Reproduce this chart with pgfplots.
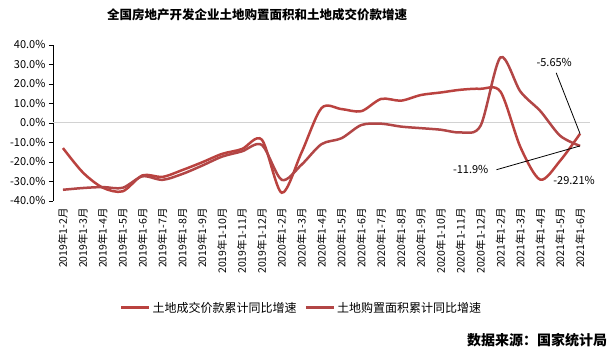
\documentclass[border=0pt]{standalone}
\usepackage{fontspec}
\setmainfont{Noto Sans CJK SC}
\usepackage{pgfplots}
\pgfplotsset{compat=1.18}
\definecolor{lineA}{RGB}{186,66,63}
\definecolor{lineB}{RGB}{178,70,70}
\begin{document}
\begin{tikzpicture}
\useasboundingbox (0bp,0bp) rectangle (616bp,353bp);
\node[font=\bfseries\fontsize{12.5bp}{14bp}\selectfont] at (257bp,338bp) {全国房地产开发企业土地购置面积和土地成交价款增速};
\node[font=\bfseries\fontsize{14bp}{16bp}\selectfont] at (537bp,13bp) {数据来源：国家统计局};
\coordinate (ORG) at (53bp,152.3bp);
\begin{axis}[
  at={(ORG)}, anchor=south west,
  scale only axis, width=537bp, height=156bp,
  clip=false,
  xmin=-0.5, xmax=26.5, ymin=-40, ymax=40,
  axis x line*=bottom, axis y line*=left,
  x axis line style={draw=none},
  y axis line style={black,-},
  ytick={-40,-30,...,40},
  yticklabel={\pgfmathprintnumber[fixed,fixed zerofill,precision=1]{\tick}\%},
  /pgf/number format/assume math mode=true,
  yticklabel style={font=\fontsize{11bp}{13bp}\selectfont},
  ytick style={black}, tick align=outside, major tick length=4bp,
  xtick={0,...,26},
  xtick style={draw=none},
  xticklabels={2019年1-2月,2019年1-3月,2019年1-4月,2019年1-5月,2019年1-6月,2019年1-7月,2019年1-8月,2019年1-9月,2019年1-10月,2019年1-11月,2019年1-12月,2020年1-2月,2020年1-3月,2020年1-4月,2020年1-5月,2020年1-6月,2020年1-7月,2020年1-8月,2020年1-9月,2020年1-10月,2020年1-11月,2020年1-12月,2021年1-2月,2021年1-3月,2021年1-4月,2021年1-5月,2021年1-6月},
  xticklabel style={rotate=90, anchor=east, font=\fontsize{10.5bp}{12bp}\selectfont},
  extra y ticks={0}, extra y tick labels={},
  extra y tick style={grid=major, major grid style={gray!35, line width=0.8bp}, tick style={draw=none}},
  legend columns=2,
  legend style={at={(0.463,-0.686)}, anchor=center, draw=none, fill=none,
    font=\fontsize{12bp}{14bp}\selectfont,
    /tikz/every even column/.append style={column sep=6bp}},
  legend image code/.code={\draw[#1, line width=2.5bp] (0bp,0bp) -- (28bp,0bp);},
]
\addplot[lineA, line width=2.5bp, smooth, tension=0.5, no markers] coordinates {
(0,-13.0) (1,-25.5) (2,-33.3) (3,-35.2) (4,-27.0) (5,-27.8) (6,-24.3) (7,-20.3) (8,-16.0) (9,-13.5) (10,-8.7)
(11,-35.9) (12,-15.2) (13,7.5) (14,7.0) (15,5.9) (16,12.2) (17,11.3) (18,14.2) (19,15.5) (20,16.9) (21,17.4)
(22,15.9) (23,-12.5) (24,-29.21) (25,-19.5) (26,-5.65)};
\addlegendentry{土地成交价款累计同比增速}
\addplot[lineB, line width=2.5bp, smooth, tension=0.5, no markers] coordinates {
(0,-34.4) (1,-33.5) (2,-33.0) (3,-33.4) (4,-27.5) (5,-29.3) (6,-26.3) (7,-22.0) (8,-17.4) (9,-14.7) (10,-11.4)
(11,-29.3) (12,-21.5) (13,-11.0) (14,-8.0) (15,-1.2) (16,-0.5) (17,-2.0) (18,-2.8) (19,-3.6) (20,-5.0) (21,-1.5)
(22,33.5) (23,16.0) (24,6.0) (25,-6.7) (26,-11.9)};
\addlegendentry{土地购置面积累计同比增速}
\draw[black, line width=0.8bp] (axis cs:24.8,25.6) -- (axis cs:26,-5.65);
\draw[black, line width=0.8bp] (axis cs:21.8,-24.1) -- (axis cs:26,-11.9);
\node[font=\fontsize{11bp}{13bp}\selectfont] at (axis cs:24.7,30.8) {-5.65\%};
\node[font=\fontsize{11bp}{13bp}\selectfont] at (axis cs:20.5,-24.1) {-11.9\%};
\node[font=\fontsize{11bp}{13bp}\selectfont] at (axis cs:25.7,-29.7) {-29.21\%};
\end{axis}
\end{tikzpicture}
\end{document}
